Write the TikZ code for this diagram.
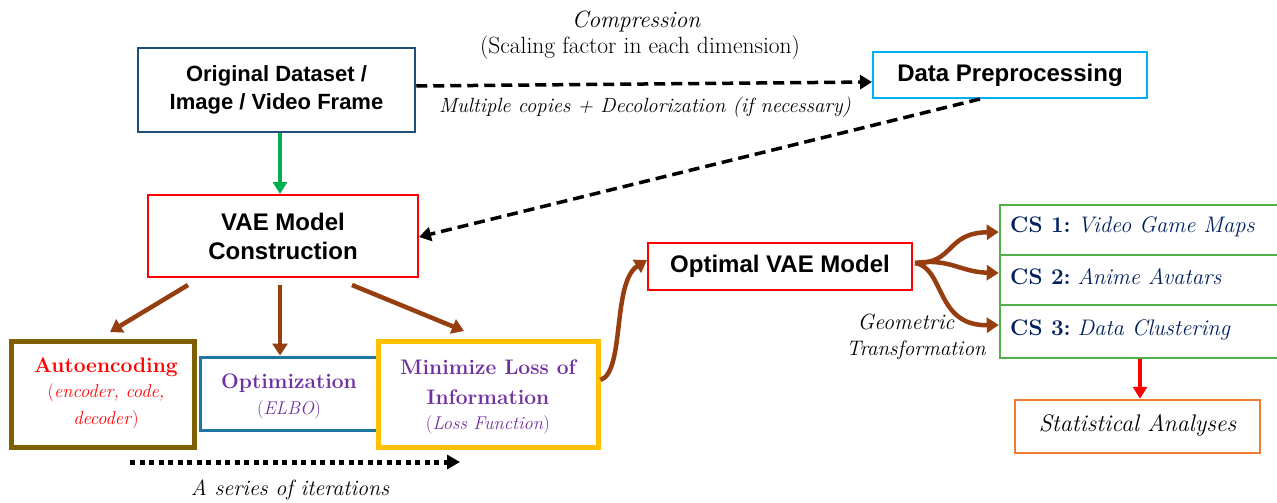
\documentclass[tikz,border=0pt]{standalone}
\usepackage{fontspec}
\newfontfamily\arialf{Liberation Sans}
\usetikzlibrary{arrows.meta}
\definecolor{dkblue}{RGB}{31,78,121}
\definecolor{ltblue}{RGB}{0,176,240}
\definecolor{vred}{RGB}{255,0,0}
\definecolor{vgreen}{RGB}{0,176,80}
\definecolor{brownarr}{RGB}{150,62,15}
\definecolor{olivebr}{RGB}{127,96,0}
\definecolor{tealb}{RGB}{31,119,160}
\definecolor{gold}{RGB}{255,192,0}
\definecolor{purp}{RGB}{112,48,160}
\definecolor{csgreen}{RGB}{80,175,70}
\definecolor{navy}{RGB}{0,32,96}
\definecolor{orng}{RGB}{237,125,49}
\tikzset{
  sansbox/.style={draw, line width=2.5pt, inner sep=0pt, align=center,
    font=\arialf\bfseries\fontsize{24}{29}\selectfont},
  serifbox/.style={draw, line width=2.5pt, inner sep=0pt, align=center},
  dasharr/.style={line width=3.5pt, dash pattern=on 11pt off 6pt,
    -{Triangle[width=14pt,length=12pt]}},
  brarr/.style={brownarr, line width=4.5pt, -{Triangle[width=15pt,length=12pt]}},
  lbl/.style={inner sep=0pt, align=center, font=\itshape\fontsize{22}{27}\selectfont},
  cstext/.style={inner sep=0pt, anchor=west, text=navy, font=\frenchspacing\fontsize{22.5}{27}\selectfont},
}
\begin{document}
\begin{tikzpicture}[x=1pt,y=-1pt]
\useasboundingbox (0,0) rectangle (1277,503);
% boxes
\node[sansbox, draw=dkblue, font=\arialf\bfseries\fontsize{22}{28}\selectfont, minimum width=277pt, minimum height=84pt] (orig) at (276.5,90) {Original Dataset /\\Image / Video Frame};
\node[sansbox, draw=ltblue, line width=2pt, minimum width=274pt, minimum height=46pt] (prep) at (1010,75) {Data Preprocessing};
\node[sansbox, draw=vred, line width=2pt, minimum width=270pt, minimum height=82pt] (vae) at (283,236) {VAE Model\\Construction};
\node[serifbox, draw=olivebr, line width=5pt, minimum width=183pt, minimum height=106pt] (auto) at (102.5,394) {};
\node[serifbox, draw=tealb, line width=3pt, minimum width=178pt, minimum height=73pt] (optim) at (289,393.5) {};
\node[serifbox, draw=gold, line width=5pt, minimum width=220pt, minimum height=106pt] (mini) at (488,394) {};
\node[sansbox, draw=vred, line width=2pt, minimum width=264pt, minimum height=47pt] (opt) at (780,266.5) {Optimal VAE Model};
\node[serifbox, draw=csgreen, line width=2.5pt, minimum width=278pt, minimum height=50pt] (cs1) at (1139,230) {};
\node[serifbox, draw=csgreen, line width=2.5pt, minimum width=278pt, minimum height=50pt] (cs2) at (1139,280) {};
\node[serifbox, draw=csgreen, line width=2.5pt, minimum width=278pt, minimum height=53pt] (cs3) at (1139,331.5) {};
\node[serifbox, draw=orng, line width=2.5pt, minimum width=245pt, minimum height=53pt] (stat) at (1137.5,426.5) {};
% texts in serif boxes
\node[inner sep=0pt, text=vred, font=\bfseries\fontsize{21}{26}\selectfont] (autot1) at (106,367) {Autoencoding};
\node[inner sep=0pt, text=vred, font=\fontsize{18.5}{26}\selectfont] (autot2) at (106,393) {(\textit{encoder, code,}};
\node[inner sep=0pt, text=vred, font=\fontsize{18.5}{26}\selectfont] (autot3) at (106,420) {\textit{decoder})};
\node[inner sep=0pt, text=purp, font=\bfseries\fontsize{21}{26}\selectfont] (optimt1) at (289,383) {Optimization};
\node[inner sep=0pt, text=purp, font=\fontsize{18.5}{26}\selectfont] (optimt2) at (289,410) {(\textit{ELBO})};
\node[inner sep=0pt, text=purp, font=\bfseries\fontsize{21}{26}\selectfont] (minit1) at (488,367) {Minimize Loss of};
\node[inner sep=0pt, text=purp, font=\bfseries\fontsize{21}{26}\selectfont] (minit2) at (488,397) {Information};
\node[inner sep=0pt, text=purp, font=\fontsize{18.5}{26}\selectfont] (minit3) at (488,425) {(\textit{Loss Function})};
\node[cstext] (cs1t) at (1010,227) {\textbf{CS 1:} \textit{Video Game Maps}};
\node[cstext] (cs2t) at (1010,277) {\textbf{CS 2:} \textit{Anime Avatars}};
\node[cstext] (cs3t) at (1010,330) {\textbf{CS 3:} \textit{Data Clustering}};
\node[inner sep=0pt, font=\itshape\fontsize{24}{28}\selectfont] (statt) at (1137.5,425) {Statistical Analyses};
% labels
\node[lbl, font=\itshape\fontsize{23.5}{27}\selectfont] (comp1) at (636,22) {Compression};
\node[lbl, font=\fontsize{23.5}{27}\selectfont] (comp2) at (640,48) {(Scaling factor in each dimension)};
\node[lbl, font=\itshape\fontsize{20.6}{27}\selectfont] (mult) at (645,107) {Multiple copies + Decolorization (if necessary)};
\node[lbl] (iter) at (290,490) {A series of iterations};
\node[lbl] (geo1) at (906,322) {Geometric};
\node[lbl, font=\itshape\fontsize{21}{27}\selectfont] (geo2) at (916,350) {Transformation};
% connectors
\draw[dasharr] (orig.east |- 0,86) -- (prep.west |- 0,82);
\draw[dasharr] (prep.south -| 980,0) -- (vae.east |- 0,237);
\draw[vgreen, line width=4pt, -{Triangle[width=14pt,length=12pt]}] (orig.south -| 280,0) -- (vae.north -| 280,0);
\coordinate (v1) at (188,285);
\coordinate (v2) at (280,285);
\coordinate (v3) at (352,285);
\draw[brarr] (v1) -- (110,332);
\draw[brarr] (v2) -- (optim.north -| 280,0);
\draw[brarr] (v3) -- (464,331);
\draw[line width=5pt, dash pattern=on 5pt off 4.5pt, -{Triangle[width=14pt,length=13pt]}] (130,462) -- (460,462);
\draw[brarr] (mini.east |- 0,380) .. controls (625,372) and (612,282) .. (opt.west |- 0,260);
\coordinate (br) at (915,263);
\draw[brarr] (br) .. controls (955,264) and (945,233) .. (cs1.west |- 0,232);
\draw[brarr] (br) .. controls (950,258) and (960,272) .. (cs2.west |- 0,273);
\draw[brarr] (br) .. controls (945,268) and (935,326) .. (cs3.west |- 0,325);
\draw[vred, line width=4pt, -{Triangle[width=14pt,length=12pt]}] (cs3.south -| 1140,0) -- (stat.north -| 1140,0);
\end{tikzpicture}
\end{document}
